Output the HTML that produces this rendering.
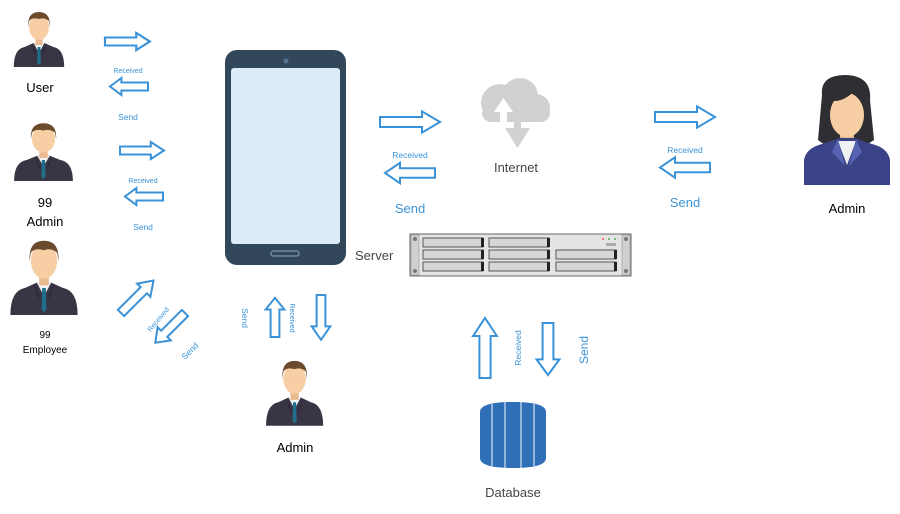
<!DOCTYPE html>
<html><head><meta charset="utf-8"><style>
html,body{margin:0;padding:0;background:#fff;width:900px;height:514px;overflow:hidden}
svg{display:block}
text{font-family:"Liberation Sans",sans-serif}
.a{fill:#fff;stroke:#3a93d8;stroke-width:2}
.b{fill:#3a93d8}
</style></head><body>
<svg width="900" height="514" viewBox="0 0 900 514" xmlns="http://www.w3.org/2000/svg">
<defs>
<g id="man">
 <path d="M2,60 Q2,42 14,40 L24,36 L36,36 L46,40 Q58,42 58,60 Z" fill="#3a3545"/>
 <path d="M24,36 L30,46 L36,36 Z" fill="#f2f2f2"/>
 <path d="M28.5,40 L31.5,40 L32,56 L30,58 L28,56 Z" fill="#1f6f8a"/>
 <path d="M22,37 L28,50 L24,44 Z M38,37 L32,50 L36,44 Z" fill="#26222e"/>
 <rect x="26" y="30" width="8" height="8" fill="#e9b98f"/>
 <ellipse cx="30" cy="20" rx="11" ry="13" fill="#f8cfa4"/>
 <path d="M18,20 Q17,5 30,5 Q43,5 42,20 L41,14 Q36,10 30,12 Q22,10 19,14 Z" fill="#6b4a2e"/>
</g>
<path id="ar" d="M0,-4 L28,-4 L28,-8.5 L40,0 L28,8.5 L28,4 L0,4Z"/>
</defs>

<!-- people -->
<use href="#man" transform="translate(12,7) scale(0.9,1)"/>
<text x="40" y="92" font-size="13" text-anchor="middle">User</text>
<use href="#man" transform="translate(12,118) scale(1.05,1.05)"/>
<text x="45" y="207" font-size="13" text-anchor="middle">99</text>
<text x="45" y="226" font-size="13" text-anchor="middle">Admin</text>
<use href="#man" transform="translate(8,234) scale(1.2,1.35)"/>
<text x="45" y="338" font-size="10" text-anchor="middle">99</text>
<text x="45" y="353" font-size="10" text-anchor="middle">Employee</text>
<use href="#man" transform="translate(264,355) scale(1.02,1.18)"/>
<text x="295" y="452" font-size="13" text-anchor="middle">Admin</text>

<!-- woman admin -->
<g>
 <path d="M822,95 Q820,75 846,75 Q872,76 870,100 L874,140 Q860,150 846,148 Q830,150 818,140 Z" fill="#2f2f33"/>
 <rect x="840" y="130" width="14" height="14" fill="#e9b98f"/>
 <ellipse cx="847" cy="115" rx="17" ry="22" fill="#f8cfa4"/>
 <path d="M828,100 Q845,105 860,84 Q866,95 866,105 L866,92 Q860,78 845,80 Q828,84 828,100Z" fill="#2f2f33"/>
 <path d="M804,185 L804,160 Q806,148 822,144 L840,138 L854,138 L872,144 Q888,148 890,160 L890,185 Z" fill="#3a4388"/>
 <path d="M838,141 L847,165 L856,141 Z" fill="#eef2f2"/>
 <path d="M838,139 L832,152 L845,166 Z M856,139 L862,152 L849,166 Z" fill="#5563b2"/>
</g>
<text x="847" y="213" font-size="13" text-anchor="middle">Admin</text>

<!-- tablet -->
<rect x="225" y="50" width="121" height="215" rx="12" fill="#33475b"/>
<rect x="231" y="68" width="109" height="176" rx="3" fill="#dcecf8"/>
<circle cx="286" cy="61" r="2.5" fill="#4f7390"/>
<rect x="271" y="251" width="28" height="5" rx="2.5" fill="none" stroke="#6c8aa3" stroke-width="1.5"/>
<text x="355" y="260" font-size="13" fill="#444">Server</text>

<!-- cloud -->
<g fill="#d1d1d1">
 <circle cx="500" cy="103" r="19"/><circle cx="520" cy="96" r="18"/><circle cx="536" cy="108" r="14"/>
 <rect x="482" y="104" width="68" height="18" rx="9"/>
 <path d="M514,116 L521,116 L521,128 L530,128 L517.5,148 L505,128 L514,128 Z"/>
</g>
<path d="M500,122 L500,112 L494,112 L503.5,98 L513,112 L507,112 L507,122 Z" fill="#fff"/>
<text x="516" y="172" font-size="13" fill="#444" text-anchor="middle">Internet</text>

<!-- server rack -->
<rect x="410" y="234" width="221" height="42" fill="#e4e4e4" stroke="#666" stroke-width="1"/>
<rect x="411" y="235" width="8" height="40" fill="#d0d0d0" stroke="#888" stroke-width="0.5"/>
<rect x="622" y="235" width="8" height="40" fill="#d0d0d0" stroke="#888" stroke-width="0.5"/>
<circle cx="415" cy="239" r="2" fill="#777"/><circle cx="415" cy="271" r="2" fill="#777"/>
<circle cx="626" cy="239" r="2" fill="#777"/><circle cx="626" cy="271" r="2" fill="#777"/>
<g fill="#d6d6d6" stroke="#555" stroke-width="1">
 <rect x="423" y="238" width="60" height="9"/><rect x="489" y="238" width="60" height="9"/>
 <rect x="423" y="250" width="60" height="9"/><rect x="489" y="250" width="60" height="9"/><rect x="556" y="250" width="60" height="9"/>
 <rect x="423" y="262" width="60" height="9"/><rect x="489" y="262" width="60" height="9"/><rect x="556" y="262" width="60" height="9"/>
</g>
<g fill="#222"><rect x="481" y="238" width="3" height="9"/><rect x="547" y="238" width="3" height="9"/><rect x="481" y="250" width="3" height="9"/><rect x="547" y="250" width="3" height="9"/><rect x="614" y="250" width="3" height="9"/><rect x="481" y="262" width="3" height="9"/><rect x="547" y="262" width="3" height="9"/><rect x="614" y="262" width="3" height="9"/></g>
<circle cx="603" cy="239" r="1" fill="#e55"/><circle cx="609" cy="239" r="1" fill="#5a5"/><circle cx="615" cy="239" r="1" fill="#5a5"/>
<rect x="606" y="243" width="10" height="3" fill="#aaa"/>

<!-- database -->
<g>
 <path d="M480,412 Q480,402 513,402 Q546,402 546,412 L546,458 Q546,468 513,468 Q480,468 480,458 Z" fill="#2e6fb8"/>
 <g stroke="#fff" stroke-width="1.2" opacity="0.8">
  <line x1="492" y1="404" x2="492" y2="466"/><line x1="505" y1="402" x2="505" y2="468"/>
  <line x1="521" y1="402" x2="521" y2="468"/><line x1="534" y1="404" x2="534" y2="466"/>
 </g>
</g>
<text x="513" y="497" font-size="13" fill="#444" text-anchor="middle">Database</text>

<!-- arrows -->
<g class="a">
 <use href="#ar" transform="translate(105,41.5) scale(1.12,1)" vector-effect="non-scaling-stroke"/>
</g>
<g fill="#fff" stroke="#3a93d8" stroke-width="2">
 <path vector-effect="non-scaling-stroke" transform="translate(105,41.5) scale(1.12,1)" d="M0,-4 L28,-4 L28,-8.5 L40,0 L28,8.5 L28,4 L0,4Z"/>
 <path vector-effect="non-scaling-stroke" transform="translate(148,86.5) scale(-0.95,1)" d="M0,-4 L28,-4 L28,-8.5 L40,0 L28,8.5 L28,4 L0,4Z"/>
 <path vector-effect="non-scaling-stroke" transform="translate(120,150.5) scale(1.1,1)" d="M0,-4 L28,-4 L28,-8.5 L40,0 L28,8.5 L28,4 L0,4Z"/>
 <path vector-effect="non-scaling-stroke" transform="translate(163,196.5) scale(-0.95,1)" d="M0,-4 L28,-4 L28,-8.5 L40,0 L28,8.5 L28,4 L0,4Z"/>
 <path vector-effect="non-scaling-stroke" transform="translate(380,122) scale(1.5,1.25)" d="M0,-4 L28,-4 L28,-8.5 L40,0 L28,8.5 L28,4 L0,4Z"/>
 <path vector-effect="non-scaling-stroke" transform="translate(435,173) scale(-1.25,1.2)" d="M0,-4 L28,-4 L28,-8.5 L40,0 L28,8.5 L28,4 L0,4Z"/>
 <path vector-effect="non-scaling-stroke" transform="translate(655,117) scale(1.5,1.25)" d="M0,-4 L28,-4 L28,-8.5 L40,0 L28,8.5 L28,4 L0,4Z"/>
 <path vector-effect="non-scaling-stroke" transform="translate(710,167.5) scale(-1.25,1.2)" d="M0,-4 L28,-4 L28,-8.5 L40,0 L28,8.5 L28,4 L0,4Z"/>
 <path vector-effect="non-scaling-stroke" transform="translate(121,313) rotate(-45) scale(1.15,1.1)" d="M0,-4 L28,-4 L28,-8.5 L40,0 L28,8.5 L28,4 L0,4Z"/>
 <path vector-effect="non-scaling-stroke" transform="translate(185,313) rotate(135) scale(1.05,1.1)" d="M0,-4 L28,-4 L28,-8.5 L40,0 L28,8.5 L28,4 L0,4Z"/>
 <path vector-effect="non-scaling-stroke" transform="translate(275,337) rotate(-90) scale(0.98,1.1)" d="M0,-4 L28,-4 L28,-8.5 L40,0 L28,8.5 L28,4 L0,4Z"/>
 <path vector-effect="non-scaling-stroke" transform="translate(321,295) rotate(90) scale(1.12,1.1)" d="M0,-4 L28,-4 L28,-8.5 L40,0 L28,8.5 L28,4 L0,4Z"/>
 <path vector-effect="non-scaling-stroke" transform="translate(485,378) rotate(-90) scale(1.5,1.4)" d="M0,-4 L28,-4 L28,-8.5 L40,0 L28,8.5 L28,4 L0,4Z"/>
 <path vector-effect="non-scaling-stroke" transform="translate(548,323) rotate(90) scale(1.3,1.35)" d="M0,-4 L28,-4 L28,-8.5 L40,0 L28,8.5 L28,4 L0,4Z"/>
</g>

<!-- labels -->
<g class="b">
 <text x="128" y="73" font-size="7" text-anchor="middle">Received</text>
 <text x="128" y="120" font-size="8.5" text-anchor="middle">Send</text>
 <text x="143" y="183" font-size="7" text-anchor="middle">Received</text>
 <text x="143" y="230" font-size="8.5" text-anchor="middle">Send</text>
 <text x="410" y="158" font-size="8.5" text-anchor="middle">Received</text>
 <text x="410" y="213" font-size="13" text-anchor="middle">Send</text>
 <text x="685" y="153" font-size="8.5" text-anchor="middle">Received</text>
 <text x="685" y="207" font-size="13" text-anchor="middle">Send</text>
 <text transform="translate(160,321) rotate(-50)" font-size="7" text-anchor="middle">Received</text>
 <text transform="translate(192,353) rotate(-45)" font-size="8.5" text-anchor="middle">Send</text>
 <text transform="translate(242,318) rotate(90)" font-size="8.5" text-anchor="middle">Send</text>
 <text transform="translate(290,318) rotate(90)" font-size="7" text-anchor="middle">Received</text>
 <text transform="translate(521,348) rotate(-90)" font-size="8.5" text-anchor="middle">Received</text>
 <text transform="translate(588,350) rotate(-90)" font-size="12" text-anchor="middle">Send</text>
</g>
</svg>
</body></html>
